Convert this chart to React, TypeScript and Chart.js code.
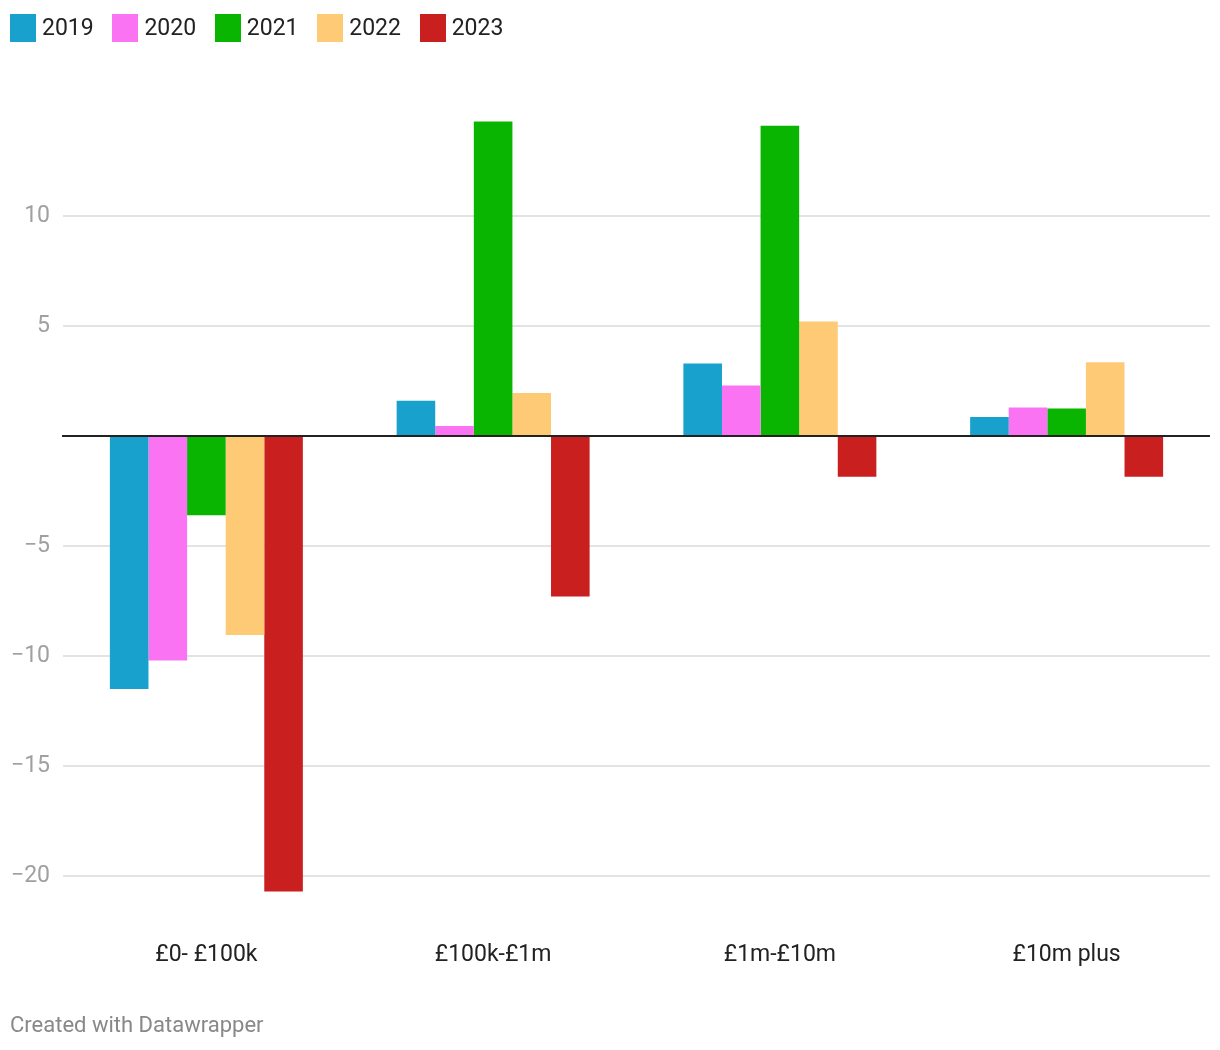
import React, { useEffect, useRef } from "react";
import { Chart, registerables } from "chart.js";
Chart.register(...registerables);

const categories = ["£0- £100k", "£100k-£1m", "£1m-£10m", "£10m plus"];
const years = ["2019", "2020", "2021", "2022", "2023"];
const values2019 = [-11.5, 1.6, 3.3, 0.86];
const values2020 = [-10.2, 0.45, 2.3, 1.3];
const values2021 = [-3.6, 14.3, 14.1, 1.25];
const values2022 = [-9.05, 1.95, 5.2, 3.35];
const values2023 = [-20.7, -7.3, -1.85, -1.85];
const seriesValues = [values2019, values2020, values2021, values2022, values2023];
const colors = ["#18a1cd", "#fa73f2", "#09b500", "#ffca76", "#c91f1f"];
const yTicks = [-20, -15, -10, -5, 5, 10];

const zeroLine = {
  id: "zeroLine",
  afterDatasetsDraw(chart: any) {
    const { ctx, chartArea, scales } = chart;
    const y = Math.round(scales.y.getPixelForValue(0));
    ctx.save();
    ctx.strokeStyle = "#222222";
    ctx.lineWidth = 2;
    ctx.beginPath();
    ctx.moveTo(chartArea.left - 1, y);
    ctx.lineTo(chartArea.right, y);
    ctx.stroke();
    ctx.restore();
  },
};

export default function App() {
  const ref = useRef<HTMLCanvasElement | null>(null);
  useEffect(() => {
    document.body.style.margin = "0";
    const chart = new Chart(ref.current as HTMLCanvasElement, {
      type: "bar",
      data: {
        labels: categories,
        datasets: years.map((y, i) => ({
          label: y,
          data: seriesValues[i],
          backgroundColor: colors[i],
          borderWidth: 0,
          categoryPercentage: 0.673,
          barPercentage: 1.0,
        })),
      },
      options: {
        animation: false,
        responsive: false,
        maintainAspectRatio: false,
        layout: { padding: { top: 106, right: 10, left: 0, bottom: 62 } },
        plugins: { legend: { display: false }, tooltip: { enabled: false } },
        scales: {
          x: {
            grid: { display: false, drawTicks: false },
            border: { display: false },
            ticks: {
              color: "#222222",
              padding: 43,
              font: { family: "Roboto", size: 23 },
            },
            afterFit(scale: any) {
              scale.height = 90;
            },
          },
          y: {
            min: -21,
            max: 15,
            border: { display: false },
            grid: {
              drawTicks: false,
              color: "#e3e3e3",
              lineWidth: 2,
            },
            afterBuildTicks(scale: any) {
              scale.ticks = yTicks.map((v) => ({ value: v }));
            },
            afterFit(scale: any) {
              scale.width = 63;
            },
            ticks: {
              color: "#a0a0a0",
              padding: 13,
              font: { family: "Roboto", size: 23 },
              callback: (v: any) => (Number(v) < 0 ? "\u2212" + Math.abs(Number(v)) : String(v)),
            },
          },
        },
      },
      plugins: [zeroLine],
    });
    return () => chart.destroy();
  }, []);

  return (
    <div style={{ position: "absolute", left: 0, top: 0, width: 1220, height: 1050, background: "#fff", fontFamily: "Roboto" }}>
      <canvas ref={ref} width={1220} height={1050} style={{ position: "absolute", left: 0, top: 0, width: 1220, height: 1050 }} />
      <div style={{ position: "absolute", left: 10, top: 14, display: "flex", alignItems: "center", gap: 18.7 }}>
        {years.map((y, i) => (
          <div key={y} style={{ display: "flex", alignItems: "center" }}>
            <div style={{ width: 26, height: 28, background: colors[i], marginRight: 6 }} />
            <span style={{ fontSize: 23, color: "#222", lineHeight: "28px" }}>{y}</span>
          </div>
        ))}
      </div>
      <div style={{ position: "absolute", left: 10, top: 1010, fontSize: 22, color: "#888", lineHeight: "30px" }}>
        Created with Datawrapper
      </div>
    </div>
  );
}
